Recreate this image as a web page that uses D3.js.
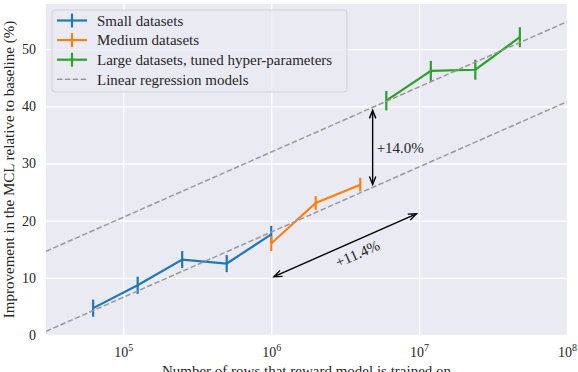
<!DOCTYPE html>
<html>
<head>
<meta charset="utf-8">
<script src="https://cdn.jsdelivr.net/npm/d3@7"></script>
<style>
  html, body { margin: 0; padding: 0; background: #ffffff; }
  svg text { font-family: "Liberation Serif", "DejaVu Serif", serif; fill: #262626; }
</style>
</head>
<body>
<div id="chart"></div>
<script>
// Data
const seriesNames = ["Small datasets", "Medium datasets", "Large datasets, tuned hyper-parameters"];
const seriesColors = ["#1f77b4", "#ff7f0e", "#2ca02c"];

const smallRows = [62500, 125000, 250000, 500000, 1000000];
const smallGain = [4.7, 8.7, 13.2, 12.5, 17.6];
const smallErr  = [1.5, 1.5, 1.5, 1.5, 1.5];

const mediumRows = [1000000, 2000000, 4000000];
const mediumGain = [16.0, 23.1, 26.3];
const mediumErr  = [1.3, 1.2, 1.2];

const largeRows = [6000000, 12000000, 24000000, 48000000];
const largeGain = [41.0, 46.2, 46.4, 52.1];
const largeErr  = [1.7, 1.75, 1.75, 1.75];

// Linear regression in log10(rows): gain = slope * log10(rows) + intercept
const regSlope = 11.4;
const regIntercepts = [-50.4, -36.4];
const regLabel = "Linear regression models";

const xTickValues = [1e5, 1e6, 1e7, 1e8];
const yTickValues = [0, 10, 20, 30, 40, 50];

// Annotations: vertical gap arrow and per-decade slope arrow
const gapArrowRows = 4.85e6;
const gapLabel = "+14.0%";
const slopeArrowFrom = [1e6, 10];
const slopeArrowTo = [1e7, 21.4];
const slopeLabel = "+11.4%";

const W = 578, H = 372;
const margin = { top: 4, right: 11, bottom: 37, left: 46 };
const width = W - margin.left - margin.right;
const height = H - margin.top - margin.bottom;
const fontSize = 15;

const svg = d3.select("#chart").append("svg")
    .attr("width", W)
    .attr("height", H);

const x = d3.scaleLog().domain([3e4, 1e8]).range([0, width]);
const y = d3.scaleLinear().domain([0, 57.9]).range([height, 0]);

const g = svg.append("g")
    .attr("transform", `translate(${margin.left},${margin.top})`);

// Background
g.append("rect")
    .attr("width", width)
    .attr("height", height)
    .attr("fill", "#eaeaf2");

// Grid lines
g.append("g")
    .attr("transform", `translate(0,${height})`)
    .call(d3.axisBottom(x).tickValues(xTickValues).tickSize(-height).tickFormat(""))
    .call(s => s.select(".domain").remove())
    .call(s => s.selectAll("line").attr("stroke", "#ffffff").attr("stroke-width", 1.3));

g.append("g")
    .call(d3.axisLeft(y).tickValues(yTickValues).tickSize(-width).tickFormat(""))
    .call(s => s.select(".domain").remove())
    .call(s => s.selectAll("line").attr("stroke", "#ffffff").attr("stroke-width", 1.3));

// Tick labels
const xAxis = g.append("g")
    .attr("transform", `translate(0,${height})`)
    .call(d3.axisBottom(x).tickValues(xTickValues).tickSize(0).tickPadding(12));
xAxis.select(".domain").remove();
xAxis.selectAll("text")
    .attr("font-size", 14)
    .attr("font-family", null)
    .attr("fill", null)
    .each(function(d) {
        const t = d3.select(this).text("");
        t.append("tspan").text("10");
        t.append("tspan").attr("dy", -6).attr("font-size", 10).text(Math.round(Math.log10(d)));
    });

const yAxis = g.append("g")
    .call(d3.axisLeft(y).tickValues(yTickValues).tickSize(0).tickPadding(10));
yAxis.select(".domain").remove();
yAxis.selectAll("text")
    .attr("font-size", 14)
    .attr("font-family", null)
    .attr("fill", null);

// Axis titles
svg.append("text")
    .attr("x", margin.left + width / 2)
    .attr("y", 376)
    .attr("text-anchor", "middle")
    .attr("font-size", fontSize)
    .text("Number of rows that reward model is trained on");

svg.append("text")
    .attr("transform", `translate(13.5,${margin.top + height / 2}) rotate(-90)`)
    .attr("text-anchor", "middle")
    .attr("font-size", fontSize)
    .text("Improvement in the MCL relative to baseline (%)");

// Clip for regression lines
svg.append("defs").append("clipPath").attr("id", "plot-clip")
    .append("rect").attr("width", width).attr("height", height);

// Data series
const series = [
    { rows: smallRows, gain: smallGain, err: smallErr },
    { rows: mediumRows, gain: mediumGain, err: mediumErr },
    { rows: largeRows, gain: largeGain, err: largeErr },
];

const line = d3.line().x(d => x(d[0])).y(d => y(d[1]));

series.forEach((s, i) => {
    const pts = s.rows.map((r, j) => [r, s.gain[j], s.err[j]]);
    g.append("path")
        .attr("d", line(pts))
        .attr("fill", "none")
        .attr("stroke", seriesColors[i])
        .attr("stroke-width", 2.2);
    g.selectAll(null)
        .data(pts)
        .enter()
        .append("line")
        .attr("x1", d => x(d[0]))
        .attr("x2", d => x(d[0]))
        .attr("y1", d => y(d[1] - d[2]))
        .attr("y2", d => y(d[1] + d[2]))
        .attr("stroke", seriesColors[i])
        .attr("stroke-width", 2.2);
});

// Regression lines
const regDomain = x.domain();
g.append("g").attr("clip-path", "url(#plot-clip)")
    .selectAll("path")
    .data(regIntercepts)
    .enter()
    .append("path")
    .attr("d", b => line(regDomain.map(r => [r, regSlope * Math.log10(r) + b])))
    .attr("fill", "none")
    .attr("stroke", "#999999")
    .attr("stroke-width", 1.5)
    .attr("stroke-dasharray", "5.5,2.4");

// Double-headed arrow helper (open heads, shrunk at both ends)
function arrow(p0, p1) {
    const shrink = 3, head = 8, half = 3.2;
    const dx = p1[0] - p0[0], dy = p1[1] - p0[1];
    const len = Math.hypot(dx, dy);
    const ux = dx / len, uy = dy / len;
    const a = [p0[0] + ux * shrink, p0[1] + uy * shrink];
    const b = [p1[0] - ux * shrink, p1[1] - uy * shrink];
    const grp = g.append("g")
        .attr("fill", "none")
        .attr("stroke", "#000000")
        .attr("stroke-width", 1.4);
    grp.append("line")
        .attr("x1", a[0]).attr("y1", a[1])
        .attr("x2", b[0]).attr("y2", b[1]);
    [[a, 1], [b, -1]].forEach(([tip, dir]) => {
        const bx = tip[0] + dir * ux * head, by = tip[1] + dir * uy * head;
        grp.append("path")
            .attr("d", `M${bx - uy * half},${by + ux * half}L${tip[0]},${tip[1]}L${bx + uy * half},${by - ux * half}`);
    });
}

// Vertical gap arrow between the regression lines
const gx = x(gapArrowRows);
const gLog = Math.log10(gapArrowRows);
const gTop = y(regSlope * gLog + regIntercepts[1]);
const gBot = y(regSlope * gLog + regIntercepts[0]);
arrow([gx, gTop], [gx, gBot]);
g.append("text")
    .attr("x", gx + 4)
    .attr("y", (gTop + gBot) / 2)
    .attr("dy", "0.35em")
    .attr("font-size", fontSize)
    .text(gapLabel);

// Slope arrow along one decade
const s0 = [x(slopeArrowFrom[0]), y(slopeArrowFrom[1])];
const s1 = [x(slopeArrowTo[0]), y(slopeArrowTo[1])];
arrow(s0, s1);
const ang = Math.atan2(s1[1] - s0[1], s1[0] - s0[0]);
const mx = (s0[0] + s1[0]) / 2, my = (s0[1] + s1[1]) / 2;
const off = 12.5, along = 8;
g.append("text")
    .attr("transform", `translate(${mx - Math.sin(ang) * off + Math.cos(ang) * along},${my + Math.cos(ang) * off + Math.sin(ang) * along}) rotate(${ang * 180 / Math.PI})`)
    .attr("text-anchor", "middle")
    .attr("dy", "0.35em")
    .attr("font-size", fontSize)
    .text(slopeLabel);

// Legend
const legend = svg.append("g").attr("transform", "translate(52,10)");
legend.append("rect")
    .attr("width", 295)
    .attr("height", 82)
    .attr("rx", 3)
    .attr("fill", "#eaeaf2")
    .attr("fill-opacity", 0.8)
    .attr("stroke", "#cccccc")
    .attr("stroke-opacity", 0.8);

const legendItems = seriesNames.map((n, i) => ({ name: n, color: seriesColors[i], dashed: false }))
    .concat([{ name: regLabel, color: "#999999", dashed: true }]);

legendItems.forEach((d, i) => {
    const row = legend.append("g").attr("transform", `translate(0,${10.5 + i * 19.6})`);
    row.append("line")
        .attr("x1", 5).attr("x2", 35)
        .attr("stroke", d.color)
        .attr("stroke-width", d.dashed ? 1.5 : 2.2)
        .attr("stroke-dasharray", d.dashed ? "5.5,2.4" : null);
    if (!d.dashed) {
        row.append("line")
            .attr("x1", 20).attr("x2", 20)
            .attr("y1", -7).attr("y2", 7)
            .attr("stroke", d.color)
            .attr("stroke-width", 2.2);
    }
    row.append("text")
        .attr("x", 45)
        .attr("dy", "0.35em")
        .attr("font-size", fontSize)
        .text(d.name);
});
</script>
</body>
</html>
